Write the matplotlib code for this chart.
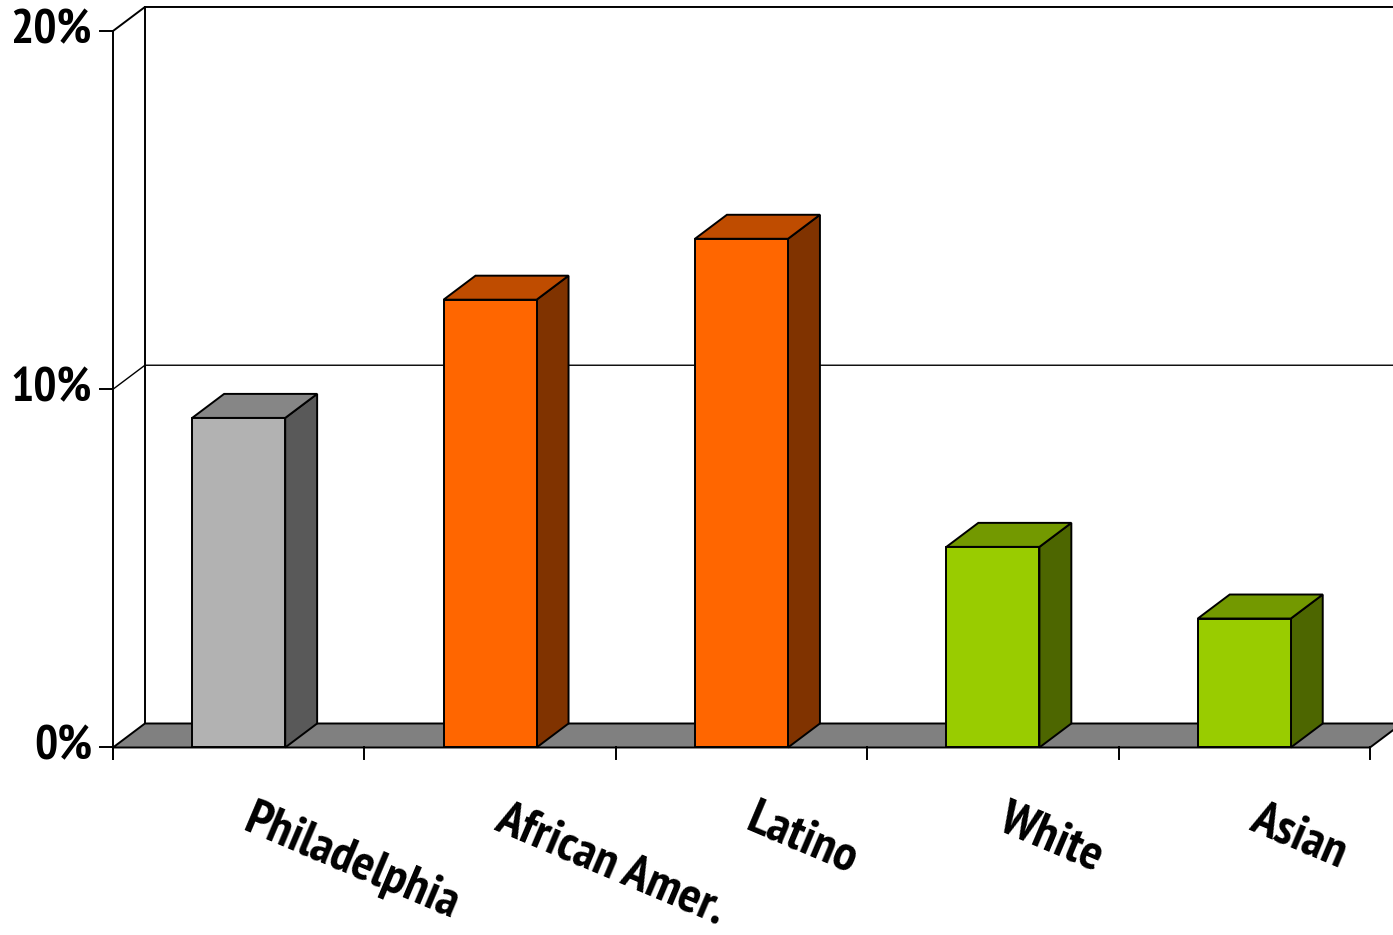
import matplotlib
matplotlib.use("Agg")
import matplotlib.pyplot as plt
from matplotlib.patches import Polygon
from matplotlib import font_manager

categories = ["Philadelphia", "African Amer.", "Latino", "White", "Asian"]
values = [9.2, 12.5, 14.2, 5.6, 3.6]
front_colors = ["#B2B2B2", "#FF6600", "#FF6600", "#99CC00", "#99CC00"]
side_colors = ["#595959", "#803300", "#803300", "#4D6600", "#4D6600"]
top_colors = ["#868686", "#BF4C00", "#BF4C00", "#739900", "#739900"]
yticks = [0, 10, 20]
ytick_labels = ["0%", "10%", "20%"]


# look for a narrow bold sans face (Arial Narrow look-alike)
def pick_font():
    ranked = []
    for f in font_manager.fontManager.ttflist:
        w = f.weight if isinstance(f.weight, int) else {"bold": 700}.get(f.weight, 400)
        fn = f.fname.lower()
        if w != 700 or "italic" in f.style or "italic" in fn:
            continue
        if "narrow" in f.name.lower() or "narrow" in fn:
            ranked.append((0, f.fname))
        elif "semicondensed" in fn or f.stretch == "semi-condensed":
            ranked.append((1 if "notosans-" in fn else 2, f.fname))
        elif ("condensed" in fn or f.stretch == "condensed") and "extra" not in fn:
            ranked.append((3, f.fname))
    if ranked:
        ranked.sort()
        return ranked[0]
    return (9, None)


rank, fname = pick_font()
if fname is None:
    fp_tick = font_manager.FontProperties(family="Liberation Sans", weight="bold", size=30)
    fp_cat = fp_tick
else:
    fp_tick = font_manager.FontProperties(fname=fname, size=35)
    fp_cat = font_manager.FontProperties(fname=fname, size=37)

fig = plt.figure(figsize=(13.93, 9.35), dpi=100)
ax = fig.add_axes([0, 0, 1, 1])
ax.set_xlim(-0.4495, 5.0915)
ax.set_ylim(-5.234, 20.865)
ax.axis("off")

n = len(categories)
DX, DY = 0.127, 0.67      # depth offset of the 3d box
bw = 0.37                 # bar width (category units)
lw = 1.4

# back wall and left wall lines
ax.plot([DX, DX], [DY, 20 + DY], color="black", lw=lw, zorder=1)
for t in yticks[1:]:
    ax.plot([0, DX, n + 1], [t, t + DY, t + DY], color="black", lw=1.0 if t < 20 else lw, zorder=1)

# floor
ax.add_patch(Polygon([(0, 0), (n, 0), (n + DX, DY), (DX, DY)], closed=True,
                     facecolor="#808080", edgecolor="black", lw=lw, zorder=2))

# bars
for i, (v, fc, sc, tc) in enumerate(zip(values, front_colors, side_colors, top_colors)):
    x0 = i + 0.5 - bw / 2
    x1 = i + 0.5 + bw / 2
    ax.add_patch(Polygon([(x1, 0), (x1 + DX, DY), (x1 + DX, v + DY), (x1, v)],
                         facecolor=sc, edgecolor="black", lw=lw, zorder=3 + i))
    ax.add_patch(Polygon([(x0, v), (x1, v), (x1 + DX, v + DY), (x0 + DX, v + DY)],
                         facecolor=tc, edgecolor="black", lw=lw, zorder=3 + i))
    ax.add_patch(Polygon([(x0, 0), (x1, 0), (x1, v), (x0, v)],
                         facecolor=fc, edgecolor="black", lw=lw, zorder=3 + i))

# front value axis with ticks
ax.plot([0, 0], [-0.335, 20], color="black", lw=lw, zorder=10)
for t, lab in zip(yticks, ytick_labels):
    ax.plot([-0.052, 0], [t, t], color="black", lw=lw, zorder=10)
    ax.text(-0.083, t, lab, ha="right", va="center", fontproperties=fp_tick)

# category ticks and rotated labels
for i in range(n + 1):
    ax.plot([i, i], [0, -0.335], color="black", lw=lw, zorder=10)
for i, lab in enumerate(categories):
    ax.text(i + 0.5 + 0.065, -1.38, lab, rotation=-23, rotation_mode="anchor",
            ha="left", va="top", fontproperties=fp_cat)

fig.savefig("out.png", dpi=100)
